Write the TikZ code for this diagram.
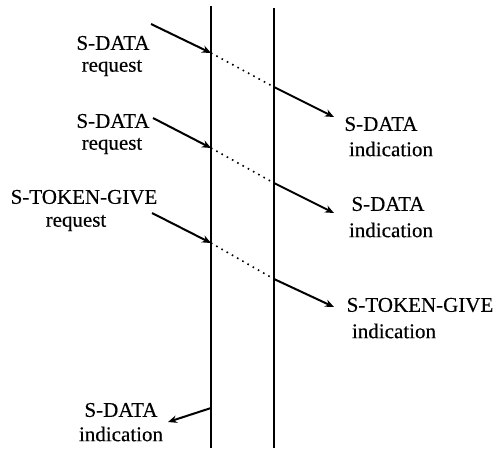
\documentclass[tikz,border=0pt]{standalone}
\usepackage{fontspec}
\setmainfont{Liberation Serif}
\newfontfamily\labelfont{Liberation Serif}[BoldFont=Liberation Serif,BoldFeatures={FakeBold=0.35}]
\usetikzlibrary{arrows.meta}
\begin{document}
\begin{tikzpicture}[x=1pt,y=-1pt,
  lbl/.style={inner sep=0pt,font=\labelfont\bfseries\fontsize{21}{24}\selectfont},
  lifeline/.style={line width=2.6pt},
  prim/.style={line width=2pt,-{Stealth[length=9pt,width=7.5pt]}},
  relay/.style={line width=1.6pt,dash pattern=on 1.6pt off 4.4pt}]
\useasboundingbox (0,0) rectangle (497,448);
% the two service boundaries
\coordinate (Ltop) at (211,6);  \coordinate (Lbot) at (211,448);
\coordinate (Rtop) at (274,8);  \coordinate (Rbot) at (274,448);
\draw[lifeline] (Ltop) -- (Lbot);
\draw[lifeline] (Rtop) -- (Rbot);
% points where primitives meet the boundaries
\coordinate (l1) at (211,53);  \coordinate (r1) at (274,87);
\coordinate (l2) at (211,148); \coordinate (r2) at (274,183);
\coordinate (l3) at (211,243); \coordinate (r3) at (274,279);
\coordinate (l4) at (211,408);
% labels on the requesting side
\node[lbl] (q1a) at (113,43) {S-DATA};
\node[lbl] (q1b) at (112,68) {request};
\node[lbl] (q2a) at (113,121) {S-DATA};
\node[lbl] (q2b) at (112,146) {request};
\node[lbl] (q3a) at (84,197) {S-TOKEN-GIVE};
\node[lbl] (q3b) at (76,223) {request};
\node[lbl] (q4a) at (121,410) {S-DATA};
\node[lbl] (q4b) at (121,434) {indication};
% labels on the receiving side
\node[lbl] (i1a) at (381,124) {S-DATA};
\node[lbl] (i1b) at (391,149) {indication};
\node[lbl] (i2a) at (388,204) {S-DATA};
\node[lbl] (i2b) at (391,230) {indication};
\node[lbl] (i3a) at (420,305) {S-TOKEN-GIVE};
\node[lbl] (i3b) at (394,331) {indication};
% free ends of the primitives beside their labels
\coordinate (s1) at (151,24);
\coordinate (s2) at (153,118);
\coordinate (s3) at (152,213);
\coordinate (e1) at (334,117);
\coordinate (e2) at (334,213);
\coordinate (e3) at (334,307);
\coordinate (e4) at (168,422);
% requests
\draw[prim] (s1) -- (l1);
\draw[prim] (s2) -- (l2);
\draw[prim] (s3) -- (l3);
% transfer across the provider
\draw[relay] (l1) -- (r1);
\draw[relay] (l2) -- (r2);
\draw[relay] (l3) -- (r3);
% indications
\draw[prim] (r1) -- (e1);
\draw[prim] (r2) -- (e2);
\draw[prim] (r3) -- (e3);
\draw[prim] (l4) -- (e4);
\end{tikzpicture}
\end{document}
